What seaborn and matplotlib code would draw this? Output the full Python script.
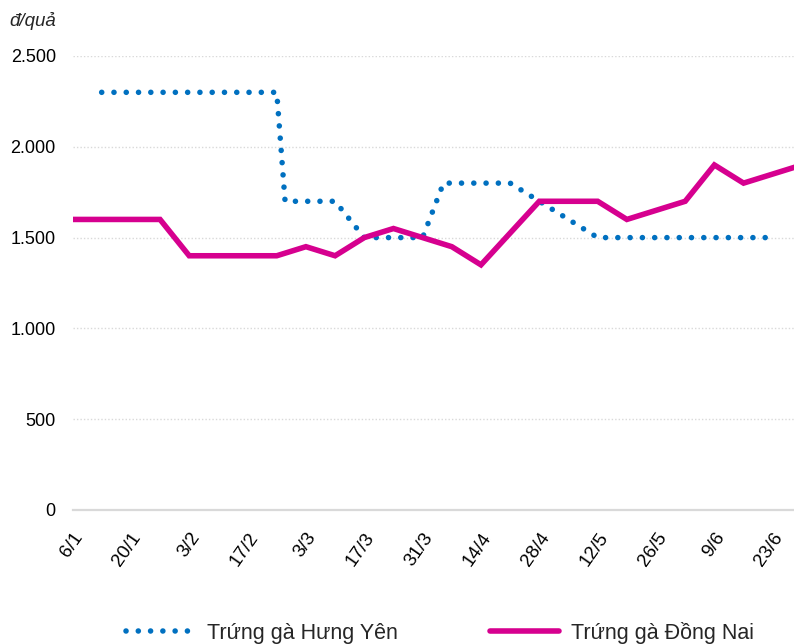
import pandas as pd
import numpy as np
import matplotlib
matplotlib.use('Agg')
import matplotlib.pyplot as plt
from matplotlib.ticker import FuncFormatter
import seaborn as sns

# ==========================================
# DATA (egg prices, dong per egg)
# ==========================================
YEAR = 2019

hung_yen_dates = ["13/1", "20/1", "27/1", "3/2", "10/2", "17/2", "24/2",
                  "26/2", "3/3", "10/3", "17/3", "24/3", "31/3",
                  "5/4", "14/4", "21/4", "28/4", "5/5",
                  "12/5", "19/5", "26/5", "2/6", "9/6", "16/6", "23/6"]
hung_yen_price = [2300, 2300, 2300, 2300, 2300, 2300, 2300,
                  1700, 1700, 1700, 1500, 1500, 1500,
                  1800, 1800, 1800, 1700, 1600,
                  1500, 1500, 1500, 1500, 1500, 1500, 1500]

dong_nai_dates = ["6/1", "13/1", "20/1", "27/1", "3/2", "10/2", "17/2", "24/2",
                  "3/3", "10/3", "17/3", "24/3", "31/3", "7/4", "14/4", "21/4",
                  "28/4", "5/5", "12/5", "19/5", "26/5", "2/6", "9/6", "16/6",
                  "23/6", "30/6"]
dong_nai_price = [1600, 1600, 1600, 1600, 1400, 1400, 1400, 1400,
                  1450, 1400, 1500, 1550, 1500, 1450, 1350, 1525,
                  1700, 1700, 1700, 1600, 1650, 1700, 1900, 1800,
                  1850, 1900]

tick_labels = ["6/1", "20/1", "3/2", "17/2", "3/3", "17/3", "31/3",
               "14/4", "28/4", "12/5", "26/5", "9/6", "23/6"]
y_ticks = [0, 500, 1000, 1500, 2000, 2500]

label_hy = "Trứng gà Hưng Yên"
label_dn = "Trứng gà Đồng Nai"
unit_label = "đ/quả"


def to_date(s):
    d, m = s.split('/')
    return pd.Timestamp(YEAR, int(m), int(d))


df_hy = pd.DataFrame({'date': [to_date(s) for s in hung_yen_dates], 'price': hung_yen_price})
df_dn = pd.DataFrame({'date': [to_date(s) for s in dong_nai_dates], 'price': dong_nai_price})

# ==========================================
# STYLE
# ==========================================
sns.set_theme(style='white')
plt.rcParams['font.family'] = ['Liberation Sans', 'DejaVu Sans']

BLUE = '#0070C0'
PINK = '#D6008F'
GRID = '#d9d9d9'

W, H = 794, 644
fig = plt.figure(figsize=(W / 100, H / 100), dpi=100)
ax = fig.add_axes([72.5 / W, 1 - 510 / H, 1 - 72.5 / W, (510 - 56) / H])

sns.lineplot(data=df_hy, x='date', y='price', ax=ax, color=BLUE, lw=4.0,
             linestyle=(0, (0.01, 2.2)), dash_capstyle='round', label=label_hy, legend=False)
sns.lineplot(data=df_dn, x='date', y='price', ax=ax, color=PINK, lw=4,
             solid_capstyle='round', solid_joinstyle='miter', label=label_dn, legend=False)

# axes limits
x_start = to_date("6/1")
ax.set_xlim(x_start, x_start + pd.Timedelta(days=173.1))
ax.set_ylim(0, 2500)

# y axis
ax.set_yticks(y_ticks)
ax.yaxis.set_major_formatter(FuncFormatter(lambda v, p: f"{int(v):,}".replace(',', '.')))
ax.yaxis.grid(True, color=GRID, linestyle=(0, (1, 1.5)), lw=1)
ax.tick_params(axis='y', length=0, pad=12, labelsize=13, labelcolor='black')

# x axis
ax.set_xticks([to_date(s) for s in tick_labels])
ax.set_xticklabels(tick_labels, rotation=55, ha='right', rotation_mode='anchor', fontsize=13.5)
ax.tick_params(axis='x', length=0, pad=14, labelcolor='black')

for side in ['top', 'right', 'left']:
    ax.spines[side].set_visible(False)
ax.spines['bottom'].set_color(GRID)
ax.spines['bottom'].set_linewidth(1.6)

ax.set_xlabel('')
ax.set_ylabel('')

fig.text(9 / W, 1 - 26 / H, unit_label, fontsize=13.5, style='italic', ha='left', va='baseline')

handles, labels = ax.get_legend_handles_labels()
fig.legend(handles, labels, loc='lower left', bbox_to_anchor=(126 / W, 0.0), ncol=2,
           frameon=False, fontsize=15.5, handlelength=3.2, handletextpad=0.55,
           columnspacing=4.3, borderpad=0, borderaxespad=0)

fig.savefig('out.png', dpi=100)
plt.close(fig)
